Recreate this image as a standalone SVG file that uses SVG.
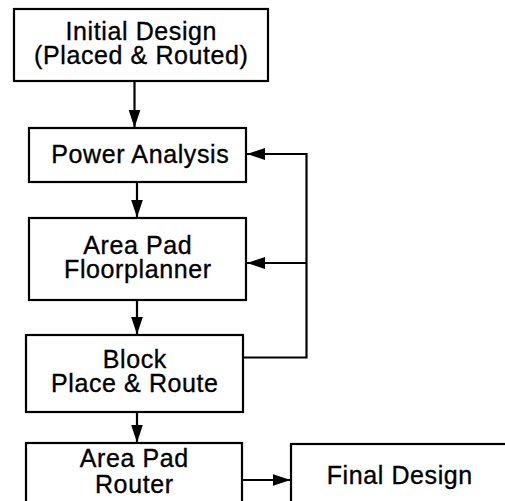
<svg xmlns="http://www.w3.org/2000/svg" width="505" height="501" viewBox="0 0 505 501">
<style>
.box{fill:#fff;stroke:#000;stroke-width:2.2}
.t{font-family:"Liberation Sans",Arial,Helvetica,sans-serif;font-size:25px;letter-spacing:0.6px;fill:#000;stroke:#000;stroke-width:0.35;text-anchor:middle}
.ln{fill:none;stroke:#000;stroke-width:2.2}
</style>
<defs>
<marker id="ah" markerUnits="userSpaceOnUse" markerWidth="20" markerHeight="14" refX="18" refY="6" orient="auto">
<path d="M0,0 L18,6 L0,12 Z" fill="#000"/>
</marker>
</defs>
<rect width="505" height="501" fill="#fff"/>
<g id="connectors">
<line class="ln" x1="134.5" y1="81" x2="134.5" y2="127.5" marker-end="url(#ah)"/>
<line class="ln" x1="137" y1="182" x2="137" y2="217.5" marker-end="url(#ah)"/>
<line class="ln" x1="137" y1="300" x2="137" y2="334.5" marker-end="url(#ah)"/>
<line class="ln" x1="137" y1="412" x2="137" y2="442.5" marker-end="url(#ah)"/>
<polyline class="ln" points="243,357.5 306.5,357.5 306.5,154 247,154" marker-end="url(#ah)"/>
<line class="ln" x1="306.5" y1="263" x2="247" y2="263" marker-end="url(#ah)"/>
<line class="ln" x1="243" y1="480" x2="290.5" y2="480" marker-end="url(#ah)"/>
</g>
<g id="initial">
<rect class="box" x="14" y="9" width="254" height="72"/>
<text class="t" x="141.3" y="39.5">Initial Design</text>
<text class="t" x="141.3" y="63.5">(Placed &amp; Routed)</text>
</g>
<g id="power">
<rect class="box" x="29" y="128" width="217" height="54"/>
<text class="t" x="140.3" y="162.7">Power Analysis</text>
</g>
<g id="floorplanner">
<rect class="box" x="29" y="218" width="217" height="82"/>
<text class="t" x="137.8" y="254">Area Pad</text>
<text class="t" x="137.8" y="278">Floorplanner</text>
</g>
<g id="block">
<rect class="box" x="26" y="335" width="217" height="77"/>
<text class="t" x="134.8" y="368">Block</text>
<text class="t" x="134.8" y="391.5">Place &amp; Route</text>
</g>
<g id="router">
<rect class="box" x="26" y="443" width="216" height="80"/>
<text class="t" x="134.3" y="467">Area Pad</text>
<text class="t" x="134.3" y="493">Router</text>
</g>
<g id="final">
<rect class="box" x="291" y="444" width="230" height="80"/>
<text class="t" x="399.8" y="484">Final Design</text>
</g>
</svg>
